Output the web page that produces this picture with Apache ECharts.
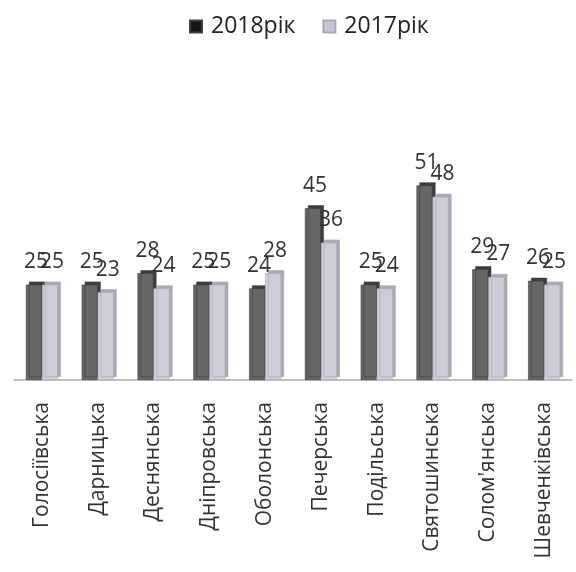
<!DOCTYPE html>
<html><head><meta charset="utf-8">
<script src="https://cdn.jsdelivr.net/npm/echarts@6/dist/echarts.min.js"></script>
<style>html,body{margin:0;padding:0;background:#fff}#c{width:576px;height:572px}</style>
</head><body><div id="c"></div>
<script>
var categories = ["Голосіївська","Дарницька","Деснянська","Дніпровська","Оболонська","Печерська","Подільська","Святошинська","Солом'янська","Шевченківська"];
var values2018 = [25,25,28,25,24,45,25,51,29,26];
var values2017 = [25,23,24,25,28,36,24,48,27,25];
var seriesNames = ["2018рік","2017рік"];

var chart = echarts.init(document.getElementById('c'));
var font = '"Open Sans", "Noto Sans", sans-serif';
function barSeries(name, data, color, side) {
  return {
    name: name, type: 'bar', data: data, barWidth: 16, barGap: '0%',
    itemStyle: {color: color, borderColor: side, borderWidth: 0.6,
      shadowColor: side, shadowOffsetX: 3, shadowOffsetY: -3, shadowBlur: 0},
    label: {show: true, position: 'top', distance: 12, offset: [2, 0], fontSize: 21, color: '#333', fontFamily: font}
  };
}
chart.setOption({
  animation: false,
  legend: {
    top: 10, left: 184, icon: 'rect', itemWidth: 12, itemHeight: 12, itemGap: 27,
    textStyle: {fontSize: 23, color: '#222', fontFamily: font, padding: [0, 0, 0, 4]},
    data: [{name: seriesNames[0], itemStyle: {color: '#151515'}}, {name: seriesNames[1], itemStyle: {color: '#c6c6d6'}}]
  },
  grid: {left: 14, right: 4, top: 151, bottom: 192},
  xAxis: {
    type: 'category', data: categories,
    axisLine: {show: true, lineStyle: {color: '#aaa', width: 1.5}},
    axisTick: {show: false},
    axisLabel: {rotate: 90, interval: 0, fontSize: 21, color: '#333', fontFamily: font, margin: 22}
  },
  yAxis: {type: 'value', min: 0, max: 60, show: false, splitLine: {show: false}},
  series: [
    barSeries(seriesNames[0], values2018, '#666666', '#3e3e3e'),
    barSeries(seriesNames[1], values2017, '#cdcdd7', '#a9a9b6')
  ]
});
</script></body></html>
